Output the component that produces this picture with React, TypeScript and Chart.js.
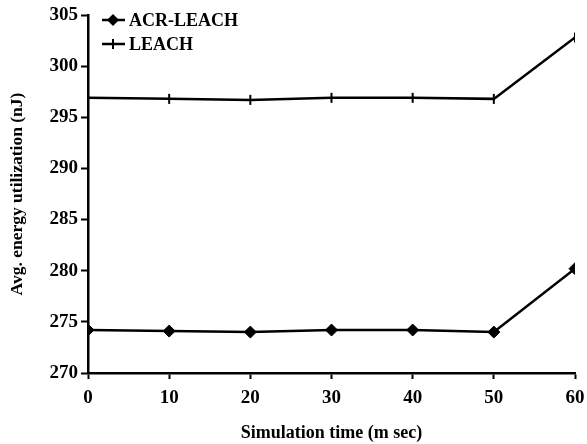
import React, { useEffect, useRef } from "react";
import { Chart, registerables } from "chart.js";

Chart.register(...registerables);

const times = [0, 10, 20, 30, 40, 50, 60];
const acrLeach = [274.2, 274.1, 274.0, 274.2, 274.2, 274.0, 280.2];
const leach = [296.9, 296.8, 296.7, 296.9, 296.9, 296.8, 302.8];
const seriesNames = ["ACR-LEACH", "LEACH"];
const xTitle = "Simulation time (m sec)";
const yTitle = "Avg. energy utilization (nJ)";

const FONT = "'Liberation Serif', 'Times New Roman', serif";

const legendPlugin = {
  id: "customLegend",
  afterDraw(chart: any) {
    const ctx = chart.ctx;
    const left = chart.chartArea.left;
    const top = chart.chartArea.top;
    ctx.save();
    chart.data.datasets.forEach((ds: any, i: number) => {
      const y = top + 5 + i * 24;
      const x0 = left + 14;
      ctx.strokeStyle = "#000";
      ctx.lineWidth = 2.5;
      ctx.beginPath();
      ctx.moveTo(x0, y);
      ctx.lineTo(x0 + 23, y);
      ctx.stroke();
      const cx = x0 + 11;
      ctx.fillStyle = "#000";
      if (ds.pointStyle === "rectRot") {
        ctx.beginPath();
        ctx.moveTo(cx, y - 6);
        ctx.lineTo(cx + 6, y);
        ctx.lineTo(cx, y + 6);
        ctx.lineTo(cx - 6, y);
        ctx.closePath();
        ctx.fill();
      } else {
        ctx.lineWidth = 2;
        ctx.beginPath();
        ctx.moveTo(cx, y - 5);
        ctx.lineTo(cx, y + 5);
        ctx.stroke();
      }
      ctx.font = `bold 18px ${FONT}`;
      ctx.textBaseline = "middle";
      ctx.textAlign = "left";
      ctx.fillText(ds.label, x0 + 27, y + 1);
    });
    ctx.restore();
  },
};

export default function App() {
  const ref = useRef<HTMLCanvasElement>(null);
  useEffect(() => {
    document.body.style.margin = "0";
    const chart = new Chart(ref.current!, {
      type: "line",
      data: {
        labels: times,
        datasets: [
          {
            label: seriesNames[0],
            data: acrLeach.map((v, i) => ({ x: times[i], y: v })),
            borderColor: "#000",
            backgroundColor: "#000",
            borderWidth: 2.5,
            pointStyle: "rectRot",
            pointRadius: 6,
            pointBorderWidth: 1,
            tension: 0,
          },
          {
            label: seriesNames[1],
            data: leach.map((v, i) => ({ x: times[i], y: v })),
            borderColor: "#000",
            backgroundColor: "#000",
            borderWidth: 2.5,
            pointStyle: "line",
            rotation: 90,
            pointRadius: 5,
            pointBorderWidth: 2,
            tension: 0,
          },
        ],
      },
      options: {
        animation: false,
        responsive: false,
        layout: { padding: { top: 15, right: 12, left: 7, bottom: 0 } },
        plugins: { legend: { display: false }, tooltip: { enabled: false } },
        scales: {
          x: {
            type: "linear",
            min: 0,
            max: 60,
            afterFit(scale: any) {
              scale.height = 71;
              scale.paddingLeft = 0;
              scale.paddingRight = 0;
            },
            ticks: {
              stepSize: 10,
              color: "#000",
              font: { family: FONT, size: 19, weight: "bold" },
              padding: 8,
            },
            grid: {
              drawOnChartArea: false,
              drawTicks: true,
              tickLength: 6,
              tickWidth: 2,
              tickColor: "#000",
            },
            border: { display: true, color: "#000", width: 2.5 },
            title: {
              display: true,
              text: xTitle,
              color: "#000",
              font: { family: FONT, size: 18, weight: "bold" },
              padding: { top: 10, bottom: 0 },
            },
          },
          y: {
            min: 270,
            max: 305,
            afterFit(scale: any) {
              scale.width = 81;
              scale.paddingTop = 0;
              scale.paddingBottom = 0;
            },
            ticks: {
              stepSize: 5,
              color: "#000",
              font: { family: FONT, size: 19, weight: "bold" },
              padding: 3,
            },
            grid: {
              drawOnChartArea: false,
              drawTicks: true,
              tickLength: 7,
              tickWidth: 2,
              tickColor: "#000",
            },
            border: { display: true, color: "#000", width: 2.5 },
            title: {
              display: true,
              text: yTitle,
              color: "#000",
              font: { family: FONT, size: 17.5, weight: "bold" },
              padding: { top: 0, bottom: 4 },
            },
          },
        },
      },
      plugins: [legendPlugin],
    } as any);
    return () => chart.destroy();
  }, []);
  return (
    <div style={{ width: 587, height: 444, background: "#fff" }}>
      <canvas ref={ref} width={587} height={444} />
    </div>
  );
}
